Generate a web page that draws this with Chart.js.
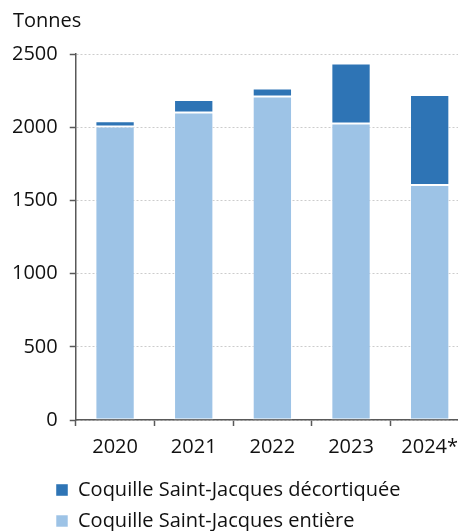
<!DOCTYPE html>
<html>
<head>
<meta charset="utf-8">
<script src="https://cdn.jsdelivr.net/npm/chart.js@4/dist/chart.umd.min.js"></script>
<style>
html,body{margin:0;padding:0;background:#fff;overflow:hidden;width:458px;height:531px;}
#wrap{position:absolute;left:0;top:0;width:469px;height:531px;}
</style>
</head>
<body>
<div id="wrap"><canvas id="c" width="469" height="531"></canvas></div>
<script>
const categories = ['2020', '2021', '2022', '2023', '2024*'];
const entiere = [2005, 2100, 2210, 2025, 1605];
const decortiquee = [35, 85, 55, 410, 615];
const yMax = 2500;
const yStep = 500;
const unitLabel = 'Tonnes';
const seriesNames = ['Coquille Saint-Jacques entière', 'Coquille Saint-Jacques décortiquée'];

const FONT = "'Open Sans', sans-serif";
const WEIGHT = '500';
const TXT = '#111111';
const AXIS = '#595959';

const boxShift = {
  id: 'boxShift',
  afterLayout(chart) {
    const lg = chart.legend;
    if (lg) {
      lg.left += 45;
      lg.right += 45;
      lg.top += 13;
      lg.bottom += 13;
    }
    const tb = chart.titleBlock;
    if (tb) {
      tb.left += 13;
      tb.right += 13;
    }
  }
};

new Chart(document.getElementById('c'), {
  type: 'bar',
  data: {
    labels: categories,
    datasets: [
      {
        label: seriesNames[0],
        data: entiere,
        backgroundColor: '#9dc3e6',
        borderColor: 'rgba(255,255,255,0.55)',
        borderWidth: 1,
        borderSkipped: false,
        barPercentage: 0.5,
        categoryPercentage: 1
      },
      {
        label: seriesNames[1],
        data: decortiquee,
        backgroundColor: '#2e74b5',
        borderColor: 'rgba(255,255,255,0.45)',
        borderWidth: 1,
        borderSkipped: false,
        barPercentage: 0.5,
        categoryPercentage: 1
      }
    ]
  },
  options: {
    responsive: false,
    animation: false,
    devicePixelRatio: 1,
    layout: { padding: { left: 0, right: 0, top: 0, bottom: 3 } },
    plugins: {
      title: {
        display: true,
        text: unitLabel,
        align: 'start',
        color: TXT,
        font: { family: FONT, size: 20, weight: WEIGHT },
        padding: { top: 9, bottom: 21 }
      },
      legend: {
        display: true,
        position: 'bottom',
        align: 'start',
        reverse: true,
        labels: {
          color: TXT,
          font: { family: FONT, size: 20, weight: WEIGHT },
          boxWidth: 12,
          boxHeight: 12,
          padding: 11
        }
      },
      tooltip: { enabled: false }
    },
    scales: {
      x: {
        stacked: true,
        offset: true,
        grid: {
          offset: true,
          drawOnChartArea: false,
          drawTicks: true,
          tickLength: 6,
          tickColor: AXIS,
          tickWidth: 1.5
        },
        border: { display: true, color: AXIS, width: 1.5 },
        ticks: {
          color: TXT,
          font: { family: FONT, size: 20, weight: WEIGHT },
          padding: 9
        },
        afterFit(scale) { scale.height = 36; }
      },
      y: {
        stacked: true,
        min: 0,
        max: yMax,
        grid: {
          color: '#cccccc',
          lineWidth: 1,
          drawTicks: true,
          tickLength: 6,
          tickColor: AXIS,
          tickWidth: 1.5
        },
        border: { display: true, color: AXIS, width: 1.5, dash: [2, 2] },
        ticks: {
          stepSize: yStep,
          color: TXT,
          font: { family: FONT, size: 20, weight: WEIGHT },
          padding: 12,
          callback: (v) => String(v)
        }
      }
    }
  },
  plugins: [boxShift]
});
</script>
</body>
</html>
